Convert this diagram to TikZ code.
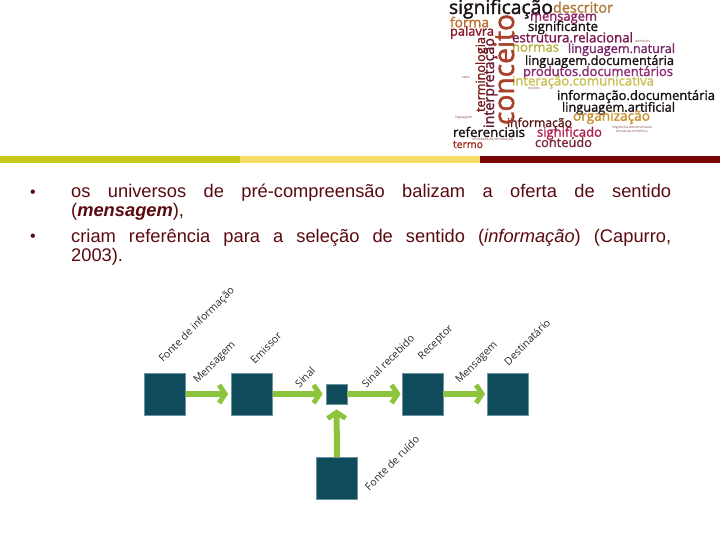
\documentclass[tikz,border=0pt]{standalone}
\usepackage{fontspec}
\setmainfont{Liberation Sans}
\newfontfamily\cloudfont[FakeBold=1.6]{Open Sans}
\newfontfamily\labfont{Open Sans}
\usetikzlibrary{arrows.meta}
\definecolor{txtred}{HTML}{5A0A10}
\definecolor{barA}{HTML}{C8C81A}
\definecolor{barB}{HTML}{F4DC66}
\definecolor{barC}{HTML}{7A0606}
\definecolor{boxc}{HTML}{0F4B5A}
\definecolor{boxedge}{HTML}{6A93A0}
\definecolor{grn}{HTML}{8CC43C}
\definecolor{labc}{HTML}{2A2A2A}
\definecolor{cBlack}{HTML}{1C1414}
\definecolor{cTan}{HTML}{B07A3A}
\definecolor{cMag}{HTML}{8B2060}
\definecolor{cOrange}{HTML}{C07030}
\definecolor{cDRed}{HTML}{8B1A2A}
\definecolor{cPurp}{HTML}{7A1A50}
\definecolor{cOlive}{HTML}{B8B040}
\definecolor{cPurp2}{HTML}{7A2A6A}
\definecolor{cPurp3}{HTML}{8B2A70}
\definecolor{cYel}{HTML}{C8C050}
\definecolor{cOrg2}{HTML}{C8902A}
\definecolor{cBrown}{HTML}{5A1A1A}
\definecolor{cRed}{HTML}{B02050}
\definecolor{cTermo}{HTML}{A03020}
\definecolor{cCont}{HTML}{7A2A3A}
\definecolor{cConc}{HTML}{A8402A}
\definecolor{cTerm}{HTML}{7A1A1A}
\definecolor{cInt}{HTML}{6A1A30}
\definecolor{cTiny}{HTML}{8A4A4A}
\newcommand\cw[6]{\node[cloudw,text=#4] (#1) at (#2,#3) {\resizebox{#5pt}{!}{\cloudfont #6}};}
\newcommand\cv[6]{\node[cloudw,text=#4,rotate=90] (#1) at (#2,#3) {\resizebox{#5pt}{!}{\cloudfont #6}};}
\newcommand\ct[4]{\node[cloudw,text=cTiny,font=\labfont\fontsize{3.5}{4}\selectfont] (#1) at (#2,#3) {#4};}
\tikzset{
  cloudw/.style={anchor=base west,inner sep=0pt,outer sep=0pt},
  blk/.style={fill=boxc,draw=boxedge,line width=0.8pt,inner sep=0pt},
  bigblk/.style={blk,minimum width=41pt,minimum height=42pt},
  garrow/.style={draw=grn,line width=6pt,-{Straight Barb[length=6pt,width=18pt,line width=5pt]}},
  lab/.style={text=labc,font=\labfont\fontsize{10.5}{11}\selectfont,rotate=45,inner sep=0pt},
  btxt/.style={text=txtred,font=\fontsize{18.3}{20}\selectfont,anchor=base west,inner sep=0pt},
  bdot/.style={btxt,font=\fontsize{16}{16}\selectfont}
}
\begin{document}
\begin{tikzpicture}[x=1pt,y=-1pt]
\useasboundingbox[fill=white] (0,0) rectangle (720,540);
% word cloud
\cw{w1}{449}{14}{cBlack}{104}{significação}
\cw{w2}{553}{12.7}{cTan}{60}{descritor}
\cw{w3}{530}{20.7}{cMag}{67}{mensagem}
\cw{w4}{450}{27.3}{cOrange}{39}{forma}
\cw{w5}{528}{31}{cBlack}{70}{significante}
\cw{w6}{450}{35.7}{cDRed}{44}{palavra}
\cw{w7}{512}{42.3}{cPurp}{121}{estrutura.relacional}
\ct{w8}{635}{42.7}{domínios}
\cw{w9}{512}{51.7}{cOlive}{47}{normas}
\cw{w10}{568}{53}{cPurp2}{107}{linguagem.natural}
\cw{w11}{525}{65}{cBlack}{149}{linguagem.documentária}
\cw{w12}{523}{76}{cPurp3}{150}{produtos.documentários}
\cw{w13}{512}{85.5}{cYel}{142}{interação.comunicativa}
\ct{w14}{462}{79}{valor}
\ct{w15}{528}{90}{noções}
\cw{w16}{557}{100}{cBlack}{158}{informação.documentária}
\cw{w17}{562}{111.7}{cBlack}{113}{linguagem.artificial}
\cw{w18}{573}{120.7}{cOrg2}{77}{organização}
\ct{w19}{455}{119}{linguagem}
\cw{w20}{507}{127}{cBrown}{65}{informação}
\cw{w21}{453}{137}{cBlack}{72}{referenciais}
\cw{w22}{537}{136.7}{cRed}{65}{significado}
\ct{w23}{612}{129}{linguística.documentária}
\ct{w24}{616}{133}{estrutura.simbólica}
\ct{w25}{472}{141}{sociedade.da.informação}
\cw{w26}{453}{148}{cTermo}{30}{termo}
\cw{w27}{535}{147}{cCont}{57}{conteúdo}
\cv{w28}{514}{125}{cConc}{111}{conceito}
\cv{w29}{485}{112}{cTerm}{75}{terminologia}
\cv{w30}{494}{128}{cInt}{90}{interpretação}
% bars
\fill[barA] (0,156) rectangle (240,163);
\fill[barB] (240,156) rectangle (480,163);
\fill[barC] (480,156) rectangle (720,163);
% bullets
\node[bdot] (d1) at (30,197) {•};
\node[btxt] (l1) at (71,198) {\makebox[600pt][s]{os universos de pré-compreensão balizam a oferta de sentido}};
\node[btxt] (l2) at (71,217) {(\textbf{\textit{mensagem}}),};
\node[bdot] (d2) at (30,241) {•};
\node[btxt] (l3) at (71,242) {\makebox[600pt][s]{criam referência para a seleção de sentido (\textit{informação}) (Capurro,}};
\node[btxt] (l4) at (71,261) {2003).};
% diagram
\node[bigblk] (b1) at (165,394) {};
\node[bigblk] (b2) at (252,394) {};
\node[blk,minimum width=21pt,minimum height=20pt] (bs) at (336.5,394) {};
\node[bigblk] (b3) at (422.5,394) {};
\node[bigblk] (b4) at (508,394) {};
\node[bigblk] (b5) at (337,478.5) {};
\draw[garrow,shorten >=3pt] (b1.east) -- (b2.west);
\draw[garrow,shorten >=3pt] (b2.east) -- (bs.west);
\draw[garrow,shorten >=1pt] (bs.east) -- (b3.west);
\draw[garrow,shorten >=2pt] (b3.east) -- (b4.west);
\draw[garrow,shorten >=5pt] (b5.north) -- (bs.south);
\node[lab] (t1) at (197,325) {Fonte de informação};
\node[lab] (t2) at (215,363) {Mensagem};
\node[lab] (t3) at (266,348) {Emissor};
\node[lab] (t4) at (305,377) {Sinal};
\node[lab] (t5) at (388,361) {Sinal recebido};
\node[lab] (t6) at (436,343) {Receptor};
\node[lab] (t7) at (477,363) {Mensagem};
\node[lab] (t8) at (527,342) {Destinatário};
\node[lab] (t9) at (392,463) {Fonte de ruído};
\end{tikzpicture}
\end{document}
